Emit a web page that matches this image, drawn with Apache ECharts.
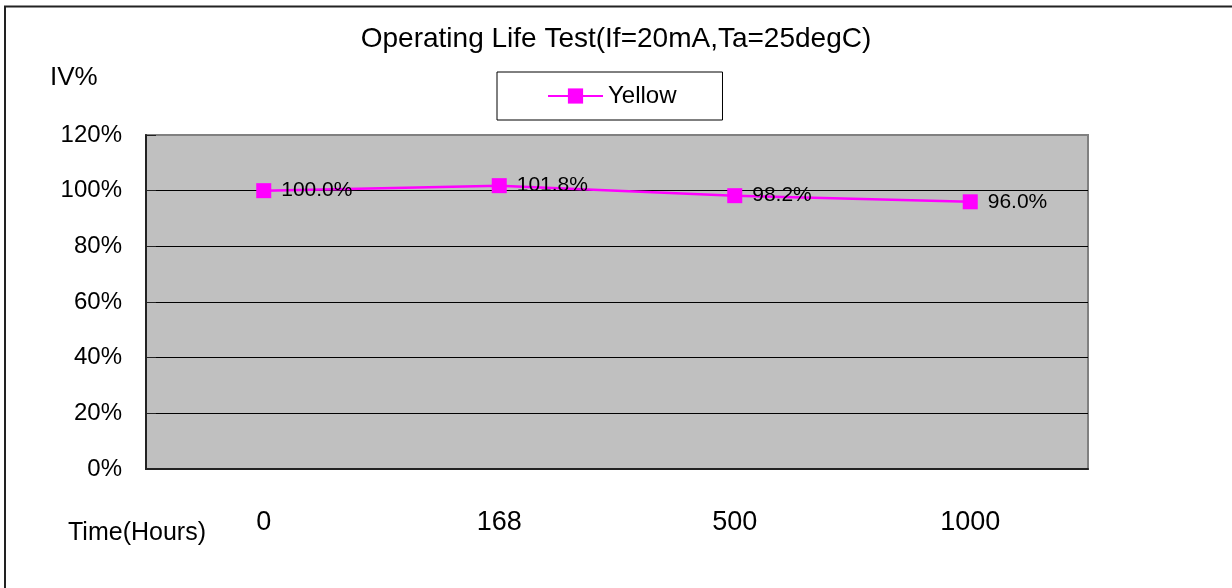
<!DOCTYPE html>
<html>
<head>
<meta charset="utf-8">
<script src="https://cdn.jsdelivr.net/npm/echarts@6/dist/echarts.min.js"></script>
<style>
  html, body { margin: 0; padding: 0; background: #fff; }
  #chart { width: 1232px; height: 588px; }
</style>
</head>
<body>
<div id="chart"></div>
<script>
// Test hours (x categories)
const hours = ['0', '168', '500', '1000'];
// Relative luminous intensity, percent of initial
const yellowIV = [100.0, 101.8, 98.2, 96.0];
// Y axis range, percent
const yMin = 0;
const yMax = 120;
const yStep = 20;

const FONT = '"Liberation Sans", Arial, sans-serif';

const chart = echarts.init(document.getElementById('chart'), null, { renderer: 'canvas' });

chart.setOption({
  animation: false,
  backgroundColor: '#fff',
  title: {
    text: 'Operating Life Test(If=20mA,Ta=25degC)',
    left: 'center',
    top: 20,
    textStyle: { fontFamily: FONT, fontSize: 28, fontWeight: 'normal', color: '#000' }
  },
  legend: {
    data: ['Yellow'],
    left: 497,
    top: 72,
    padding: [12, 46, 12, 50],
    borderColor: '#000',
    borderWidth: 1,
    itemWidth: 55,
    itemHeight: 19,
    textStyle: { fontFamily: FONT, fontSize: 24, color: '#000' }
  },
  grid: {
    left: 146,
    right: 144,
    top: 135,
    bottom: 119,
    show: true,
    backgroundColor: '#C0C0C0',
    borderColor: '#808080',
    borderWidth: 2
  },
  xAxis: {
    type: 'category',
    data: hours,
    boundaryGap: true,
    axisLine: { lineStyle: { color: '#222', width: 2 } },
    axisTick: { inside: true, length: 9, lineStyle: { color: '#222', width: 1 } },
    axisLabel: { margin: 40, fontFamily: FONT, fontSize: 27, color: '#000' },
    splitLine: { show: false }
  },
  yAxis: {
    type: 'value',
    min: yMin,
    max: yMax,
    interval: yStep,
    axisLine: { show: true, lineStyle: { color: '#222', width: 2 } },
    axisTick: { show: true, inside: true, length: 10, lineStyle: { color: '#222', width: 1 } },
    axisLabel: { margin: 24, fontFamily: FONT, fontSize: 24, color: '#000', formatter: '{value}%' },
    splitLine: { show: true, showMaxLine: false, lineStyle: { color: '#000', width: 1 } }
  },
  graphic: [
    {
      type: 'rect',
      silent: true,
      shape: { x: 5, y: 6.5, width: 1400, height: 800 },
      style: { fill: 'none', stroke: '#222', lineWidth: 2 }
    },
    {
      type: 'text',
      left: 50,
      top: 65,
      style: { text: 'IV%', font: '26px ' + FONT, fill: '#000' }
    },
    {
      type: 'text',
      left: 68,
      top: 521,
      style: { text: 'Time(Hours)', font: '25px ' + FONT, fill: '#000' }
    }
  ],
  series: [
    {
      name: 'Yellow',
      type: 'line',
      data: yellowIV,
      color: '#FF00FF',
      symbol: 'rect',
      symbolSize: 15,
      lineStyle: { color: '#FF00FF', width: 2.5 },
      itemStyle: { color: '#FF00FF' },
      label: {
        show: true,
        position: 'right',
        distance: 10,
        fontFamily: FONT,
        fontSize: 21,
        color: '#000',
        formatter: p => p.value.toFixed(1) + '%'
      }
    }
  ]
});
</script>
</body>
</html>
